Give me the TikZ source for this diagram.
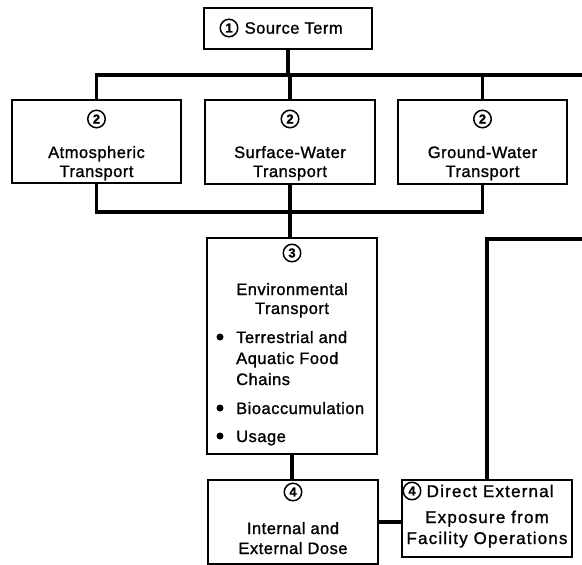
\documentclass[tikz,border=0pt]{standalone}
\usepackage{fontspec}
\setmainfont{Liberation Sans}[LetterSpace=3,FakeBold=1.2]
\usetikzlibrary{positioning}

\begin{document}
\begin{tikzpicture}[x=1pt,y=-1pt,
		box/.style={draw=black,line width=1.5pt,inner sep=0pt},
		num/.style={circle,draw=black,line width=1.5pt,inner sep=0pt,minimum size=17.5pt,font=\bfseries\fontsize{13}{13}\selectfont},
		lbl/.style={inner sep=0pt,anchor=base,font=\fontsize{16.5}{20}\selectfont},
		widelbl/.style={lbl,font=\fontsize{17}{20}\selectfont\addfontfeature{LetterSpace=7}},
		bus/.style={line width=3.2pt}]
		\useasboundingbox (0,0) rectangle (582,565);
		% boxes
		\node[box,minimum width=168pt,minimum height=41pt] (src) at (288,28.5) {};
		\node[box,minimum width=169pt,minimum height=83pt] (atm) at (96.5,141.5) {};
		\node[box,minimum width=170pt,minimum height=84pt] (sfc) at (290,142) {};
		\node[box,minimum width=169pt,minimum height=84pt] (gnd) at (482.5,142) {};
		\node[box,minimum width=170pt,minimum height=216pt] (env) at (292,346) {};
		\node[box,minimum width=170pt,minimum height=84pt] (dose) at (293,522) {};
		\node[box,minimum width=170pt,minimum height=77pt] (direct) at (487,518.5) {};
		% texts
		\node[num] (srcnum) at (229,28) {1};
		\node[lbl,anchor=west,right=6pt of srcnum] (srctxt) {Source Term};
		\node[num] (atmnum) at (96.5,119) {2};
		\node[lbl] (atmtxt) at (96.5,158) {Atmospheric};
		\node[lbl] (atmtxt2) at (96.5,177) {Transport};
		\node[num] (sfcnum) at (290,119) {2};
		\node[lbl] (sfctxt) at (290,158) {Surface-Water};
		\node[lbl] (sfctxt2) at (290,177) {Transport};
		\node[num] (gndnum) at (482.5,119) {2};
		\node[lbl] (gndtxt) at (482.5,158) {Ground-Water};
		\node[lbl] (gndtxt2) at (482.5,177) {Transport};
		\node[num] (envnum) at (292,253) {3};
		\node[lbl] (envtxt) at (292,295) {Environmental};
		\node[lbl] (envtxt2) at (292,314) {Transport};
		\foreach \y/\t [count=\i] in {343/Terrestrial and,364/Aquatic Food,385/Chains,414/Bioaccumulation,442/Usage}
			\node[lbl,anchor=base west] (envitem\i) at (236,\y) {\t};
		\foreach \y in {337,408,436}
			\fill (220,\y) circle (3.5pt);
		\node[num] (dosenum) at (293,492) {4};
		\node[lbl] (dosetxt) at (293,534) {Internal and};
		\node[lbl] (dosetxt2) at (293,554) {External Dose};
		\node[num] (directnum) at (412,491) {4};
		\node[widelbl,anchor=west,right=5pt of directnum] (directtxt) {Direct External};
		\node[widelbl] (directtxt2) at (487,523) {Exposure from};
		\node[widelbl] (directtxt3) at (487,544) {Facility Operations};
		% connectors
		\coordinate (topbus) at (582,75);
		\coordinate (lowbus) at (290,212);
		\coordinate (extbus) at (582,239);
		\draw[bus] (atm.north) |- (topbus);
		\draw[bus] (src.south) -- (src.south |- topbus);
		\draw[bus] (sfc.north) -- (sfc.north |- topbus);
		\draw[bus] (gnd.north) -- (gnd.north |- topbus);
		\draw[bus] (atm.south) |- (lowbus) -| (gnd.south);
		\draw[bus] (sfc.south) -- (sfc.south |- env.north);
		\draw[bus] (env.south) -- (env.south |- dose.north);
		\draw[bus] (dose.east) -- (direct.west |- dose.east);
		\draw[bus] (direct.north) |- (extbus);
	\end{tikzpicture}
\end{document}
